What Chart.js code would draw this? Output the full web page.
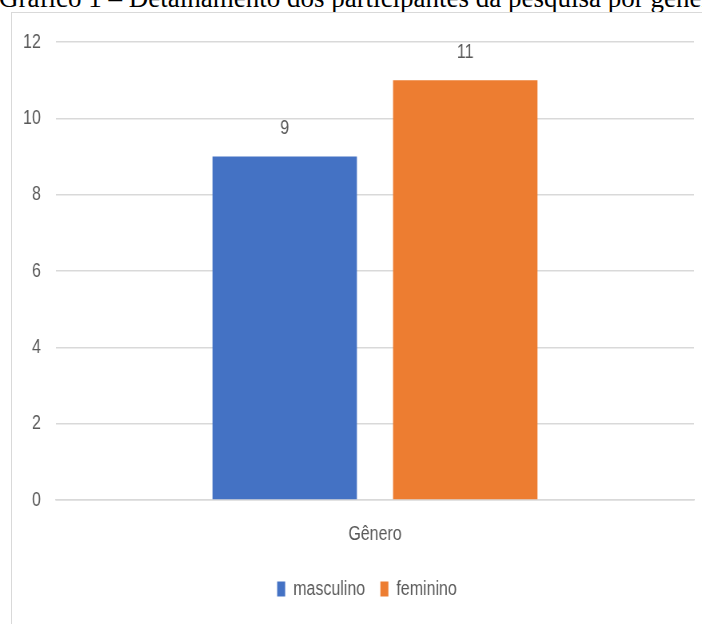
<!DOCTYPE html>
<html>
<head>
<meta charset="utf-8">
<script src="https://cdn.jsdelivr.net/npm/chart.js@4/dist/chart.umd.min.js"></script>
<style>
  html, body { margin: 0; padding: 0; background: #fff; overflow: hidden; }
  body { width: 702px; height: 624px; position: relative; }
  #titulo {
    position: absolute; left: -1px; top: -15px; white-space: nowrap; line-height: 27px;
    font-family: "Liberation Serif", "Times New Roman", serif; font-size: 27px; color: #000;
  }
  #moldura {
    position: absolute; left: 11px; top: 12px; width: 720px; height: 640px;
    border-left: 1px solid #d9d9d9; border-top: 1px solid #d9d9d9;
  }
  #grafico { position: absolute; left: 0; top: 0; }
</style>
</head>
<body>
<div id="titulo">Gráfico 1 – Detalhamento dos participantes da pesquisa por gênero</div>
<div id="moldura"></div>
<!-- o original é uma imagem do Excel comprimida na horizontal: desenhamos largo e encolhemos -->
<canvas id="grafico" width="878" height="624" style="width:702px;height:624px"></canvas>
<script>
// Dados
const categorias = ['Gênero'];
const masculino = [9];
const feminino = [11];
const ticksY = [0, 2, 4, 6, 8, 10, 12];

const k = 702 / 878; // fator de compressão horizontal
const fonte = '"Liberation Sans", Arial, sans-serif';
const cinzaTexto = '#595959';
const cinzaGrade = '#d9d9d9';

// Rótulos de valor acima das barras
const rotulosPlugin = {
    id: 'rotulos',
    afterDatasetsDraw(chart) {
        const ctx = chart.ctx;
        ctx.save();
        ctx.font = '20px ' + fonte;
        ctx.fillStyle = cinzaTexto;
        ctx.textAlign = 'center';
        ctx.textBaseline = 'middle';
        chart.data.datasets.forEach(function(ds, i) {
            chart.getDatasetMeta(i).data.forEach(function(bar, j) {
                ctx.fillText(ds.data[j], bar.x, bar.y - 28);
            });
        });
        ctx.restore();
    }
};

// no original a legenda fica um pouco à direita do centro da imagem
const legendaPlugin = {
    id: 'legendaDeslocada',
    afterLayout(chart) {
        if (chart.legend) chart.legend.left = Math.round(40 / k);
    }
};

new Chart(document.getElementById('grafico'), {
    type: 'bar',
    data: {
        labels: categorias,
        datasets: [
            { label: 'masculino', data: masculino, backgroundColor: '#4472C4' },
            { label: 'feminino', data: feminino, backgroundColor: '#ED7D31' }
        ]
    },
    options: {
        responsive: false,
        animation: false,
        devicePixelRatio: 1,
        categoryPercentage: 0.566,
        barPercentage: 0.8,
        layout: { padding: { top: 42, right: Math.round(8 / k), left: 0, bottom: 15 } },
        plugins: {
            legend: {
                position: 'bottom',
                labels: {
                    boxWidth: Math.round(8 / k),
                    boxHeight: 15,
                    padding: 19,
                    color: cinzaTexto,
                    font: { family: fonte, size: 20 }
                }
            },
            tooltip: { enabled: false }
        },
        scales: {
            x: {
                grid: { display: false },
                border: { display: true, color: cinzaGrade, width: 1.5 },
                ticks: { color: cinzaTexto, padding: 14, font: { family: fonte, size: 20 } }
            },
            y: {
                min: 0,
                max: 12,
                afterFit: function(s) { s.width = Math.round(56 / k); },
                afterBuildTicks: function(s) { s.ticks = ticksY.map(v => ({ value: v })); },
                grid: { color: cinzaGrade, lineWidth: 1.5, drawTicks: false },
                border: { display: false },
                ticks: { color: cinzaTexto, padding: Math.round(15 / k), font: { family: fonte, size: 20 } }
            }
        }
    },
    plugins: [rotulosPlugin, legendaPlugin]
});
</script>
</body>
</html>
